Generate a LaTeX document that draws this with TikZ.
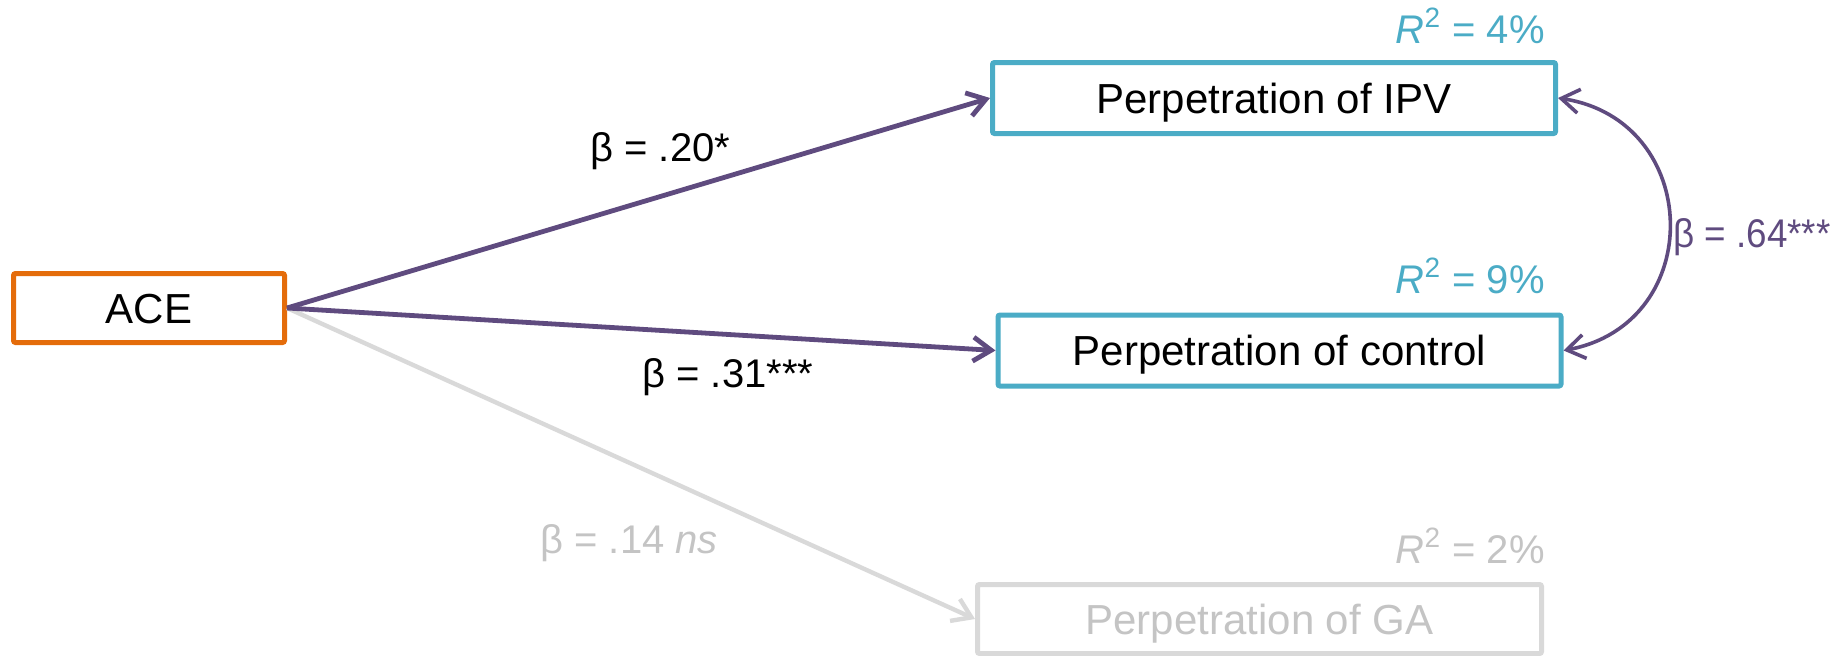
\documentclass[tikz,border=0pt]{standalone}
\usepackage{fontspec}
\setmainfont{Liberation Sans}
\usetikzlibrary{arrows.meta}
\definecolor{aceorange}{HTML}{E46C0A}
\definecolor{teal}{HTML}{4BACC6}
\definecolor{purp}{HTML}{5F4B7F}
\definecolor{lgray}{HTML}{D9D9D9}
\definecolor{tgray}{HTML}{C4C4C4}
\newcommand{\boxfont}{\fontsize{21}{25}\selectfont}
\newcommand{\labfont}{\fontsize{20}{24}\selectfont}
\tikzset{
  box/.style={draw, line width=2.5pt, rounded corners=1pt, inner sep=0pt,
    text height=15pt, text depth=0pt, font=\boxfont, fill=white},
  acebox/.style={box, draw=aceorange, minimum width=135.5pt, minimum height=34.5pt},
  tealbox/.style={box, draw=teal, minimum width=281.5pt, minimum height=35.5pt},
  graybox/.style={box, draw=lgray, text=tgray, minimum width=282pt, minimum height=34.5pt},
  lab/.style={inner sep=0pt, font=\labfont},
  path/.style={line width=2.4pt, draw=purp, -{Straight Barb[length=9pt,width=12pt]}},
  nspath/.style={line width=2.2pt, draw=lgray, -{Straight Barb[length=9pt,width=12pt]}},
  covpath/.style={line width=1.8pt, draw=purp, {Straight Barb[length=9pt,width=12pt]}-{Straight Barb[length=9pt,width=12pt]}}
}
\begin{document}
\begin{tikzpicture}[x=0.5pt, y=-0.5pt]
\useasboundingbox (0,0) rectangle (1835,655);
% nodes
\node[acebox] (ace) at (149,308) {ACE};
\node[tealbox] (ipv) at (1274,98) {Perpetration of IPV};
\node[tealbox] (ctl) at (1279.5,350.5) {Perpetration of control};
\node[graybox] (ga) at (1259.5,619) {Perpetration of GA};
% connectors
\draw[nspath] (ace.east) -- (ga.west);
\draw[path] (ace.east) -- (ipv.west);
\draw[path] (ace.east) -- (ctl.west);
\draw[covpath] (ipv.east) .. controls +(145,22) and +(144,-27) .. (ctl.east);
% labels
\node[lab, anchor=base west] (b20) at (590,161) {β = .20*};
\node[lab, anchor=base west] (b31) at (642,387) {β = .31***};
\node[lab, anchor=base west, text=tgray] (b14) at (540,553) {β = .14 \textit{ns}};
\node[lab, anchor=base west, text=purp] (b64) at (1673,247) {\scalebox{0.92}[1]{β = .64***}};
\node[lab, anchor=base east, text=teal] (r4) at (1545,43) {\textit{R}\textsuperscript{2} = 4\%};
\node[lab, anchor=base east, text=teal] (r9) at (1545,293) {\textit{R}\textsuperscript{2} = 9\%};
\node[lab, anchor=base east, text=tgray] (r2) at (1545,563) {\textit{R}\textsuperscript{2} = 2\%};
\end{tikzpicture}
\end{document}
